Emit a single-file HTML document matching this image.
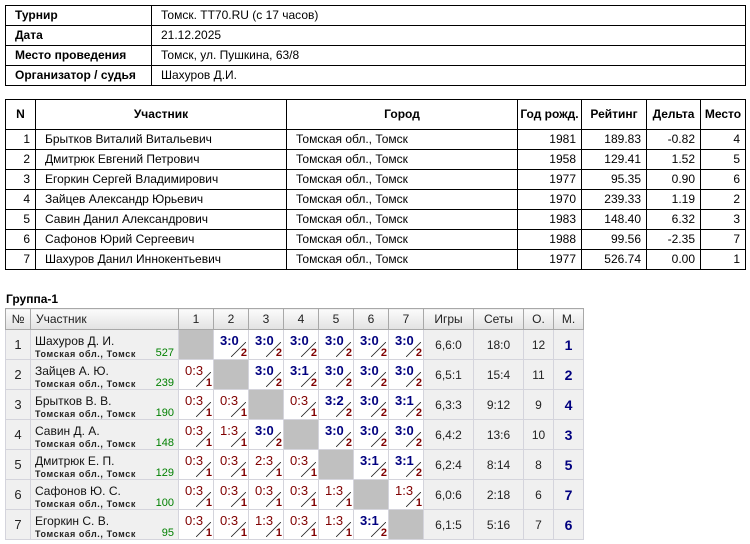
<!DOCTYPE html>
<html>
<head>
<meta charset="utf-8">
<style>
*{margin:0;padding:0;box-sizing:content-box}
body{width:750px;height:544px;overflow:hidden;background:#fff;font-family:"Liberation Sans",Arial,sans-serif;position:relative;color:#000}
table{border-collapse:collapse;table-layout:fixed;position:absolute}
.t1{left:5px;top:5px;width:740px}
.t1 td{border:1px solid #000;height:19px;line-height:19px;font-size:12px;padding:0 0 0 9px;white-space:nowrap;overflow:hidden}
.t1 td.h{font-weight:bold}
.t2{left:5px;top:99px;width:740px}
.t2 td{border:1px solid #000;height:19px;line-height:19px;font-size:12px;padding:0 4px 0 9px;white-space:nowrap;overflow:hidden}
.t2 tr.hd td{height:29px;line-height:29px;font-weight:bold;text-align:center;padding:0}
.t2 td.r{text-align:right;padding:0 5px 0 0}
.title{position:absolute;left:6px;top:292px;font-size:12px;font-weight:bold;line-height:14px}
.g{left:5px;top:308px;width:578px;border:1px solid #a0a0a0}
.g th{height:20px;font-weight:normal;font-size:12px;background:linear-gradient(#fbfbfb,#e2e2e2);border:1px solid #a8a8a8;text-align:center;padding:0;line-height:20px;color:#222}
.g th.pl{text-align:left;padding-left:5px}
.g td{height:29px;border:1px solid #d4d4dc;background:#f0f0f0;padding:0;text-align:center;font-size:12px;vertical-align:middle;color:#222}
.g td.s{background:#fff}
.g td.x{background:#c0c0c0}
.g td.p{text-align:left}
.g td.n{font-size:13px}
.g td.m{font-weight:bold;font-size:14px;color:#00007f}
.c{position:relative;height:29px;overflow:hidden}
.c b{position:absolute;left:6px;top:4px;font-size:13px;line-height:13px;white-space:nowrap}
.c b.W{font-weight:bold;color:#00007f}
.c b.L{font-weight:normal;color:#800000}
.c i{position:absolute;left:17px;top:12px;width:15px;height:15px;background:linear-gradient(to bottom right,transparent calc(50% - 0.75px),#111 50%,transparent calc(50% + 0.75px))}
.c u{position:absolute;right:1px;top:18px;font-size:11px;line-height:11px;font-weight:bold;color:#800000;text-decoration:none}
.c .nm{position:absolute;left:4px;top:4px;font-size:12px;line-height:14px;white-space:nowrap;color:#111}
.c .ct{position:absolute;left:4px;top:19px;font-size:9px;font-weight:bold;letter-spacing:0.6px;line-height:10px;white-space:nowrap;color:#222}
.c .rt{position:absolute;right:4px;top:17px;font-size:11px;line-height:12px;color:#008000}
</style>
</head>
<body>
<table class="t1">
<col style="width:146px"><col>
<tr><td class="h">Турнир</td><td>Томск. TT70.RU (с 17 часов)</td></tr>
<tr><td class="h">Дата</td><td>21.12.2025</td></tr>
<tr><td class="h">Место проведения</td><td>Томск, ул. Пушкина, 63/8</td></tr>
<tr><td class="h">Организатор / судья</td><td>Шахуров Д.И.</td></tr>
</table>

<table class="t2">
<col style="width:30px"><col style="width:251px"><col style="width:231px"><col style="width:64px"><col style="width:65px"><col style="width:54px"><col style="width:45px">
<tr class="hd"><td>N</td><td>Участник</td><td>Город</td><td>Год рожд.</td><td>Рейтинг</td><td>Дельта</td><td>Место</td></tr>
<tr><td class="r">1</td><td>Брытков Виталий Витальевич</td><td>Томская обл., Томск</td><td class="r">1981</td><td class="r">189.83</td><td class="r">-0.82</td><td class="r">4</td></tr>
<tr><td class="r">2</td><td>Дмитрюк Евгений Петрович</td><td>Томская обл., Томск</td><td class="r">1958</td><td class="r">129.41</td><td class="r">1.52</td><td class="r">5</td></tr>
<tr><td class="r">3</td><td>Егоркин Сергей Владимирович</td><td>Томская обл., Томск</td><td class="r">1977</td><td class="r">95.35</td><td class="r">0.90</td><td class="r">6</td></tr>
<tr><td class="r">4</td><td>Зайцев Александр Юрьевич</td><td>Томская обл., Томск</td><td class="r">1970</td><td class="r">239.33</td><td class="r">1.19</td><td class="r">2</td></tr>
<tr><td class="r">5</td><td>Савин Данил Александрович</td><td>Томская обл., Томск</td><td class="r">1983</td><td class="r">148.40</td><td class="r">6.32</td><td class="r">3</td></tr>
<tr><td class="r">6</td><td>Сафонов Юрий Сергеевич</td><td>Томская обл., Томск</td><td class="r">1988</td><td class="r">99.56</td><td class="r">-2.35</td><td class="r">7</td></tr>
<tr><td class="r">7</td><td>Шахуров Данил Иннокентьевич</td><td>Томская обл., Томск</td><td class="r">1977</td><td class="r">526.74</td><td class="r">0.00</td><td class="r">1</td></tr>
</table>

<div class="title">Группа-1</div>

<table class="g">
<col style="width:25px"><col style="width:148px"><col style="width:35px"><col style="width:35px"><col style="width:35px"><col style="width:35px"><col style="width:35px"><col style="width:35px"><col style="width:35px"><col style="width:50px"><col style="width:50px"><col style="width:30px"><col style="width:30px">
<tr><th>№</th><th class="pl">Участник</th><th>1</th><th>2</th><th>3</th><th>4</th><th>5</th><th>6</th><th>7</th><th>Игры</th><th>Сеты</th><th>О.</th><th>М.</th></tr>

<tr><td class="n">1</td><td class="p"><div class="c"><div class="nm">Шахуров Д. И.</div><div class="ct">Томская обл., Томск</div><div class="rt">527</div></div></td>
<td class="x"></td>
<td class="s"><div class="c"><b class="W">3:0</b><i></i><u>2</u></div></td>
<td class="s"><div class="c"><b class="W">3:0</b><i></i><u>2</u></div></td>
<td class="s"><div class="c"><b class="W">3:0</b><i></i><u>2</u></div></td>
<td class="s"><div class="c"><b class="W">3:0</b><i></i><u>2</u></div></td>
<td class="s"><div class="c"><b class="W">3:0</b><i></i><u>2</u></div></td>
<td class="s"><div class="c"><b class="W">3:0</b><i></i><u>2</u></div></td>
<td>6,6:0</td><td>18:0</td><td>12</td><td class="m">1</td></tr>

<tr><td class="n">2</td><td class="p"><div class="c"><div class="nm">Зайцев А. Ю.</div><div class="ct">Томская обл., Томск</div><div class="rt">239</div></div></td>
<td class="s"><div class="c"><b class="L">0:3</b><i></i><u>1</u></div></td>
<td class="x"></td>
<td class="s"><div class="c"><b class="W">3:0</b><i></i><u>2</u></div></td>
<td class="s"><div class="c"><b class="W">3:1</b><i></i><u>2</u></div></td>
<td class="s"><div class="c"><b class="W">3:0</b><i></i><u>2</u></div></td>
<td class="s"><div class="c"><b class="W">3:0</b><i></i><u>2</u></div></td>
<td class="s"><div class="c"><b class="W">3:0</b><i></i><u>2</u></div></td>
<td>6,5:1</td><td>15:4</td><td>11</td><td class="m">2</td></tr>

<tr><td class="n">3</td><td class="p"><div class="c"><div class="nm">Брытков В. В.</div><div class="ct">Томская обл., Томск</div><div class="rt">190</div></div></td>
<td class="s"><div class="c"><b class="L">0:3</b><i></i><u>1</u></div></td>
<td class="s"><div class="c"><b class="L">0:3</b><i></i><u>1</u></div></td>
<td class="x"></td>
<td class="s"><div class="c"><b class="L">0:3</b><i></i><u>1</u></div></td>
<td class="s"><div class="c"><b class="W">3:2</b><i></i><u>2</u></div></td>
<td class="s"><div class="c"><b class="W">3:0</b><i></i><u>2</u></div></td>
<td class="s"><div class="c"><b class="W">3:1</b><i></i><u>2</u></div></td>
<td>6,3:3</td><td>9:12</td><td>9</td><td class="m">4</td></tr>

<tr><td class="n">4</td><td class="p"><div class="c"><div class="nm">Савин Д. А.</div><div class="ct">Томская обл., Томск</div><div class="rt">148</div></div></td>
<td class="s"><div class="c"><b class="L">0:3</b><i></i><u>1</u></div></td>
<td class="s"><div class="c"><b class="L">1:3</b><i></i><u>1</u></div></td>
<td class="s"><div class="c"><b class="W">3:0</b><i></i><u>2</u></div></td>
<td class="x"></td>
<td class="s"><div class="c"><b class="W">3:0</b><i></i><u>2</u></div></td>
<td class="s"><div class="c"><b class="W">3:0</b><i></i><u>2</u></div></td>
<td class="s"><div class="c"><b class="W">3:0</b><i></i><u>2</u></div></td>
<td>6,4:2</td><td>13:6</td><td>10</td><td class="m">3</td></tr>

<tr><td class="n">5</td><td class="p"><div class="c"><div class="nm">Дмитрюк Е. П.</div><div class="ct">Томская обл., Томск</div><div class="rt">129</div></div></td>
<td class="s"><div class="c"><b class="L">0:3</b><i></i><u>1</u></div></td>
<td class="s"><div class="c"><b class="L">0:3</b><i></i><u>1</u></div></td>
<td class="s"><div class="c"><b class="L">2:3</b><i></i><u>1</u></div></td>
<td class="s"><div class="c"><b class="L">0:3</b><i></i><u>1</u></div></td>
<td class="x"></td>
<td class="s"><div class="c"><b class="W">3:1</b><i></i><u>2</u></div></td>
<td class="s"><div class="c"><b class="W">3:1</b><i></i><u>2</u></div></td>
<td>6,2:4</td><td>8:14</td><td>8</td><td class="m">5</td></tr>

<tr><td class="n">6</td><td class="p"><div class="c"><div class="nm">Сафонов Ю. С.</div><div class="ct">Томская обл., Томск</div><div class="rt">100</div></div></td>
<td class="s"><div class="c"><b class="L">0:3</b><i></i><u>1</u></div></td>
<td class="s"><div class="c"><b class="L">0:3</b><i></i><u>1</u></div></td>
<td class="s"><div class="c"><b class="L">0:3</b><i></i><u>1</u></div></td>
<td class="s"><div class="c"><b class="L">0:3</b><i></i><u>1</u></div></td>
<td class="s"><div class="c"><b class="L">1:3</b><i></i><u>1</u></div></td>
<td class="x"></td>
<td class="s"><div class="c"><b class="L">1:3</b><i></i><u>1</u></div></td>
<td>6,0:6</td><td>2:18</td><td>6</td><td class="m">7</td></tr>

<tr><td class="n">7</td><td class="p"><div class="c"><div class="nm">Егоркин С. В.</div><div class="ct">Томская обл., Томск</div><div class="rt">95</div></div></td>
<td class="s"><div class="c"><b class="L">0:3</b><i></i><u>1</u></div></td>
<td class="s"><div class="c"><b class="L">0:3</b><i></i><u>1</u></div></td>
<td class="s"><div class="c"><b class="L">1:3</b><i></i><u>1</u></div></td>
<td class="s"><div class="c"><b class="L">0:3</b><i></i><u>1</u></div></td>
<td class="s"><div class="c"><b class="L">1:3</b><i></i><u>1</u></div></td>
<td class="s"><div class="c"><b class="W">3:1</b><i></i><u>2</u></div></td>
<td class="x"></td>
<td>6,1:5</td><td>5:16</td><td>7</td><td class="m">6</td></tr>
</table>
</body>
</html>
